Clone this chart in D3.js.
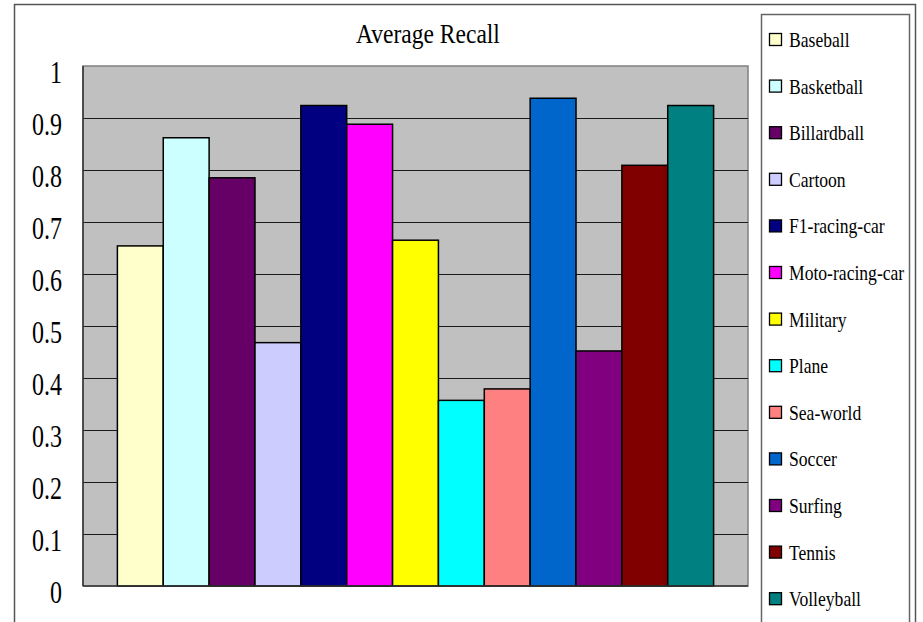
<!DOCTYPE html>
<html>
<head>
<meta charset="utf-8">
<script src="https://cdn.jsdelivr.net/npm/d3@7"></script>
<style>
  html, body { margin: 0; padding: 0; background: #fff; }
  svg { display: block; }
  text { font-family: "Liberation Serif", "Times New Roman", serif; fill: #000; }
</style>
</head>
<body>
<svg id="chart" width="923" height="622"></svg>
<script>
const title = "Average Recall";
const categories = ["Baseball", "Basketball", "Billardball", "Cartoon", "F1-racing-car",
  "Moto-racing-car", "Military", "Plane", "Sea-world", "Soccer", "Surfing", "Tennis", "Volleyball"];
const recall = [0.654, 0.862, 0.785, 0.468, 0.924, 0.888, 0.665, 0.357, 0.379, 0.938, 0.452, 0.809, 0.924];
const colors = ["#FFFFCC", "#CCFFFF", "#660066", "#CCCCFF", "#000080", "#FF00FF", "#FFFF00",
  "#00FFFF", "#FF8080", "#0066CC", "#800080", "#800000", "#008080"];
const tickValues = [0, 0.1, 0.2, 0.3, 0.4, 0.5, 0.6, 0.7, 0.8, 0.9, 1];
const tickLabels = ["0", "0.1", "0.2", "0.3", "0.4", "0.5", "0.6", "0.7", "0.8", "0.9", "1"];

const svg = d3.select("#chart");
const plot = { left: 83, right: 748, top: 66, bottom: 586 };

// outer chart border
svg.append("rect").attr("x", 14.5).attr("y", 4.5).attr("width", 901).attr("height", 640)
  .attr("fill", "#fff").attr("stroke", "#555").attr("stroke-width", 1.5);

const x = d3.scaleBand().domain(categories).range([plot.left, plot.right])
  .paddingInner(0).paddingOuter(0.75);
const y = d3.scaleLinear().domain([0, 1]).range([plot.bottom, plot.top]);

// plot area
svg.append("rect").attr("x", plot.left).attr("y", plot.top)
  .attr("width", plot.right - plot.left).attr("height", plot.bottom - plot.top)
  .attr("fill", "#C0C0C0").attr("stroke", "#808080").attr("stroke-width", 1.5);

// gridlines
svg.append("g").selectAll("line").data(tickValues.filter(v => v > 0 && v < 1)).join("line")
  .attr("x1", plot.left).attr("x2", plot.right)
  .attr("y1", d => Math.round(y(d)) + 0.5).attr("y2", d => Math.round(y(d)) + 0.5)
  .attr("stroke", "#1a1a1a").attr("stroke-width", 1.2);

// bars
svg.append("g").selectAll("rect").data(categories).join("rect")
  .attr("x", d => x(d)).attr("width", x.bandwidth())
  .attr("y", (d, i) => y(recall[i])).attr("height", (d, i) => y(0) - y(recall[i]))
  .attr("fill", (d, i) => colors[i]).attr("stroke", "#000").attr("stroke-width", 1.5);

// axis lines
svg.append("line").attr("x1", plot.left).attr("x2", plot.left).attr("y1", plot.top).attr("y2", plot.bottom)
  .attr("stroke", "#333").attr("stroke-width", 1.5);
svg.append("line").attr("x1", plot.left).attr("x2", plot.right).attr("y1", plot.bottom).attr("y2", plot.bottom)
  .attr("stroke", "#333").attr("stroke-width", 1.5);

// y axis labels
const yAxis = d3.axisLeft(y).tickValues(tickValues).tickFormat((d, i) => tickLabels[i])
  .tickSize(0).tickPadding(0);
const ag = svg.append("g").attr("transform", "translate(62,0)").call(yAxis);
ag.select(".domain").remove();
ag.selectAll("text")
  .attr("x", 0).attr("dy", null).attr("y", 16)
  .attr("transform", "scale(0.75,1)")
  .style("font-family", "'Liberation Serif', serif")
  .style("font-size", "32px").attr("fill", "#000");

// title
svg.append("text").attr("transform", "translate(428,43) scale(0.84,1)")
  .attr("text-anchor", "middle").style("font-size", "28px").text(title);

// legend
svg.append("rect").attr("x", 761.5).attr("y", 14.5).attr("width", 148).attr("height", 640)
  .attr("fill", "#fff").attr("stroke", "#666").attr("stroke-width", 1.5);
const lg = svg.append("g").selectAll("g").data(categories).join("g")
  .attr("transform", (d, i) => `translate(769,${33 + i * 46.6})`);
lg.append("rect").attr("x", 0.5).attr("y", 0.5).attr("width", 12).attr("height", 12)
  .attr("fill", (d, i) => colors[i]).attr("stroke", "#000").attr("stroke-width", 1.3);
lg.append("text").attr("transform", "translate(20,14) scale(0.8,1)")
  .style("font-size", "22px").text(d => d);
</script>
</body>
</html>
